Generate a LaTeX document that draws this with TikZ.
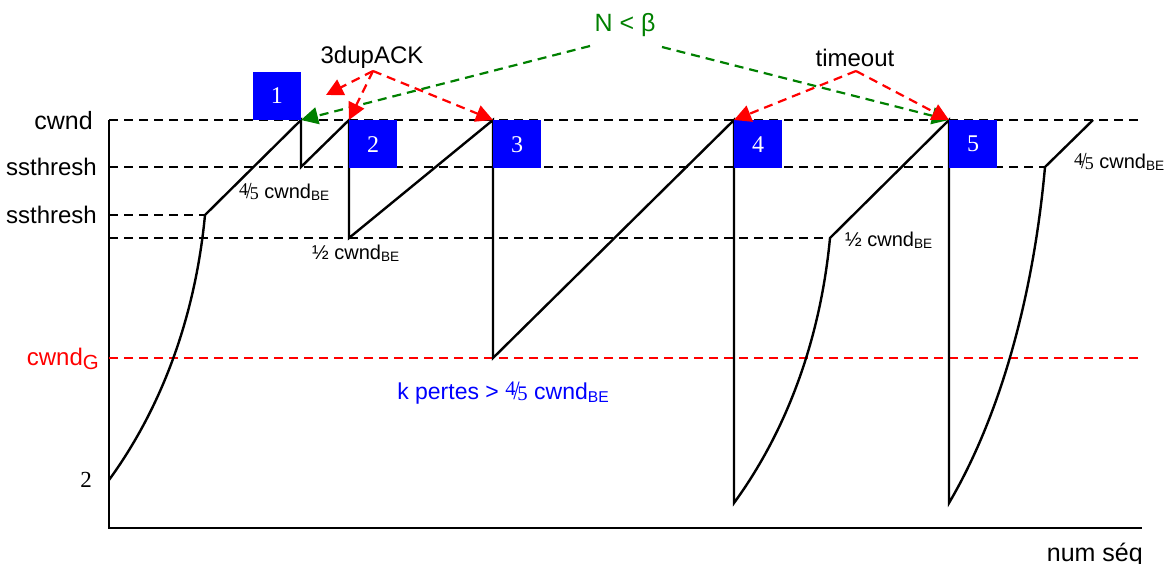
\documentclass[tikz,border=0pt]{standalone}
\usepackage{fontspec}
\setmainfont{Liberation Serif}
\setsansfont{Liberation Sans}
\usepackage{graphicx}
\usetikzlibrary{arrows.meta}
\definecolor{dgreen}{RGB}{0,128,0}
% four-fifths fraction and the BE subscript
\newcommand\fqf{{\rmfamily\raisebox{.32ex}{\scalebox{.9}{4}}\kern-.1em\scalebox{1}[1.15]{/}\kern-.1em\raisebox{-.08ex}{\scalebox{.9}{5}}}}
\newcommand\cbe{cwnd\raisebox{-.22ex}{\scalebox{.68}{BE}}}
\begin{document}
\begin{tikzpicture}[x=1pt,y=-1pt,
  every node/.style={inner sep=0pt},
  lab/.style={font=\sffamily\fontsize{24}{28}\selectfont},
  slab/.style={font=\sffamily\fontsize{20}{24}\selectfont},
  numbox/.style={fill=blue, minimum size=48pt, text=white,
    font=\rmfamily\fontsize{24}{28}\selectfont},
  guide/.style={dash pattern=on 9pt off 6pt, line width=1.9pt},
  curve/.style={line width=2.4pt, line join=miter},
  tip/.style={-{Triangle[length=17pt,width=17pt]}},
  redarr/.style={guide, line width=2.2pt, red, tip},
  greenarr/.style={guide, line width=2.2pt, dgreen, tip}]
\useasboundingbox (0,0) rectangle (1176,564);

% key points of the window curve
\coordinate (p0) at (109,480);
\coordinate (p1) at (205,215);
\coordinate (p2) at (301,120);
\coordinate (p3) at (301,167);
\coordinate (p4) at (349,120);
\coordinate (p5) at (349,238);
\coordinate (p6) at (493,120);
\coordinate (p7) at (493,358);
\coordinate (p8) at (734,120);
\coordinate (p9) at (734,503);
\coordinate (p10) at (830,238);
\coordinate (p11) at (949,120);
\coordinate (p12) at (949,503);
\coordinate (p13) at (1045,167);
\coordinate (p14) at (1093,120);

% axes
\coordinate (ytop) at (109,120);
\coordinate (orig) at (109,528);
\coordinate (xend) at (1142,528);
\draw[line width=2pt] (ytop) -- (orig) -- (xend);

% level guides
\draw[guide] (ytop) -- (1139,120);
\draw[guide] (109,167) -- (p13);
\draw[guide] (109,215) -- (p1);
\draw[guide] (109,238) -- (p10);
\draw[guide, red] (109,358) -- (1139,358);

% axis labels
\node[lab, anchor=east, font=\sffamily\fontsize{25}{28}\selectfont] (lcwnd) at (93,121) {cwnd};
\node[lab, anchor=east] (lss1) at (97,167) {ssthresh};
\node[lab, anchor=east] (lss2) at (97,215) {ssthresh};
\node[lab, anchor=east, text=red] (lcg) at (99,359) {cwnd\raisebox{-.3ex}{\scalebox{.85}{G}}};
\node[anchor=east, font=\rmfamily\fontsize{23}{28}\selectfont] (ltwo) at (92,480) {2};
\node[lab, anchor=base east, font=\sffamily\fontsize{25}{28}\selectfont] (lseq) at (1143,561) {num séq};

% congestion window
\draw[curve] (p0) .. controls (160,410) and (195,320) .. (p1) -- (p2) -- (p3) -- (p4)
  -- (p5) -- (p6) -- (p7) -- (p8) -- (p9)
  .. controls (785,433) and (820,343) .. (p10) -- (p11) -- (p12)
  .. controls (999,418) and (1033,300) .. (p13) -- (p14);

% loss events
\node[numbox, anchor=south east] (b1) at (p2) {1};
\node[numbox, anchor=north west] (b2) at (p4) {2};
\node[numbox, anchor=north west] (b3) at (p6) {3};
\node[numbox, anchor=north west] (b4) at (p8) {4};
\node[numbox, anchor=north west] (b5) at (p11) {5};

% value annotations
\node[slab, anchor=west] (a1) at (239,192) {\fqf\ \cbe};
\node[slab, anchor=west] (a2) at (312,253) {½ \cbe};
\node[slab, anchor=west] (a3) at (845,240) {½ \cbe};
\node[slab, anchor=west] (a4) at (1074,162) {\fqf\ \cbe};
\node[lab, text=blue, font=\sffamily\fontsize{23}{28}\selectfont] (kp) at (503,393) {k pertes > \fqf\ \cbe};

% triggers
\node[lab] (dup) at (372,57) {3dupACK};
\node[lab] (tmo) at (855,58) {timeout};
\node[lab, text=dgreen, font=\sffamily\fontsize{25}{28}\selectfont] (nb) at (625,25) {N < β};

\coordinate (dupv) at (373,71);
\coordinate (dupl) at (326,95);
\coordinate (tmov) at (856,71);
\coordinate (nbl) at (590,46);
\coordinate (nbr) at (662,47);

\draw[greenarr] (nbl) -- (p2);
\draw[greenarr] (nbr) -- (p11);
\draw[redarr] (dupv) -- (dupl);
\draw[redarr] (dupv) -- (p4);
\draw[redarr] (dupv) -- (p6);
\draw[redarr] (tmov) -- (p8);
\draw[redarr] (tmov) -- (p11);
\end{tikzpicture}
\end{document}
